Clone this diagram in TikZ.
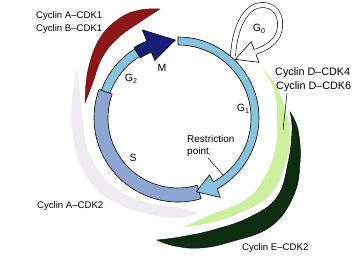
\documentclass[tikz,border=0pt]{standalone}
\usepackage{fontspec}
\setmainfont{Liberation Sans}
\definecolor{Sfill}{RGB}{140,165,210}
\definecolor{Gfill}{RGB}{135,195,222}
\definecolor{Mfill}{RGB}{22,32,120}
\definecolor{redC}{RGB}{140,22,22}
\definecolor{greyC}{RGB}{238,236,240}
\definecolor{lgreenC}{RGB}{205,240,160}
\definecolor{dgreenC}{RGB}{12,45,16}
\newcommand{\gsub}[1]{G\raisebox{-0.4ex}{\fontsize{7}{8}\selectfont #1}}
\begin{document}
\begin{tikzpicture}[x=1pt,y=1pt,
  ring/.style={draw=black, line width=0.6pt, line join=round},
  lab/.style={inner sep=0pt, anchor=west, font=\fontsize{9.6}{11}\selectfont},
  labD/.style={inner sep=0pt, anchor=west, font=\fontsize{10.8}{12}\selectfont},
  phase/.style={inner sep=0pt, font=\fontsize{10.5}{12}\selectfont},
  leader/.style={draw=black, line width=0.5pt}]
\useasboundingbox (0,0) rectangle (358,263);
% crescents (behind)
\filldraw[fill=redC, draw=redC!70!black, line width=0.4pt]
  plot[smooth, tension=0.7] coordinates {(85,160) (88,193) (100,225) (120,245) (140,253) (160,254)}
  -- plot[smooth, tension=0.7] coordinates {(160,254) (140,241) (118,225) (102,205) (92,178) (85,160)} -- cycle;
\fill[greyC]
  plot[smooth, tension=0.7] coordinates {(77,195) (72,163) (72,133) (80,100) (100,70) (133,53) (173,45) (198,50)}
  -- plot[smooth, tension=0.7] coordinates {(198,50) (180,55) (143,62) (112,78) (90,108) (83,140) (80,170) (77,195)} -- cycle;
\fill[lgreenC]
  plot[smooth, tension=0.7] coordinates {(260,198) (278,173) (290,133) (285,98) (270,68) (240,50) (210,40) (183,36)}
  -- plot[smooth, tension=0.7] coordinates {(183,36) (215,50) (245,63) (263,83) (275,113) (277,143) (274,173) (260,198)} -- cycle;
\filldraw[fill=dgreenC, draw=black, line width=0.4pt]
  plot[smooth, tension=0.7] coordinates {(290,151) (298,133) (300,100) (293,66) (270,36) (230,21) (200,15) (175,17) (157,23)}
  -- plot[smooth, tension=0.7] coordinates {(157,23) (180,26) (213,33) (250,46) (277,66) (288,100) (292,133) (290,151)} -- cycle;
% cycle ring
\begin{scope}[shift={(178,145)}]
\filldraw[ring, fill=Sfill] (-74:84) arc[start angle=-74, end angle=-200, radius=84]
  -- (-200:70) arc[start angle=-200, end angle=-74, radius=70] -- cycle;
\filldraw[ring, fill=Gfill] (160:81.5) arc[start angle=160, end angle=122, radius=81.5]
  -- (122:72.5) arc[start angle=122, end angle=160, radius=72.5] -- cycle;
\filldraw[ring, fill=Mfill] (122:83) arc[start angle=122, end angle=112, radius=83]
  -- (112:95) -- (92:78) -- (112:62) -- (112:71) arc[start angle=112, end angle=122, radius=71] -- cycle;
\filldraw[ring, fill=Gfill] (90:81) arc[start angle=90, end angle=-61, radius=81]
  -- (-62:90) -- (-76:76) -- (-61:65) -- (-61:73) arc[start angle=-61, end angle=90, radius=73] -- cycle;
\end{scope}
% G0 loop
\coordinate (g0s) at (233,207);
\coordinate (g0b) at (255,211);
\draw[line width=0.6pt, double=white, double distance=4.5pt]
  (g0s) .. controls (235,240) and (248,258) .. (262,258)
  .. controls (280,258) and (283,240) .. (278,228)
  .. controls (273,218) and (263,214) .. (g0b);
\coordinate (g0t) at (235.3,203.6);
\coordinate (g0b1) at (258.9,200.7);
\coordinate (g0b2) at (251.1,221.3);
\coordinate (g0s1) at (256.0,208.3);
\coordinate (g0s2) at (254.0,213.7);
\fill[white] (g0t) -- (g0b1) -- (g0s1) -- (g0s2) -- (g0b2) -- cycle;
\draw[line width=0.6pt, line join=miter] (g0s1) -- (g0b1) -- (g0t) -- (g0b2) -- (g0s2);
% labels
\node[lab] (cab1) at (36,247) {Cyclin A–CDK1};
\node[lab] (cbb1) at (36,234) {Cyclin B–CDK1};
\node[phase] (m) at (162,195) {M};
\node[phase] (g2) at (131,184) {\gsub{2}};
\node[phase] (g0) at (259,234) {\gsub{0}};
\node[phase] (g1) at (243,154) {\gsub{1}};
\node[phase] (s) at (133,105) {S};
\node[inner sep=0pt, anchor=west, align=left, font=\fontsize{10}{12}\selectfont] (rp) at (187,117) {Restriction\\point};
\node[labD] (cd4) at (275,190) {Cyclin D–CDK4};
\node[labD] (cd6) at (276,176) {Cyclin D–CDK6};
\node[lab] (ca2) at (37,57) {Cyclin A–CDK2};
\node[lab] (ce2) at (242,15) {Cyclin E–CDK2};
% leaders
\coordinate (rpA) at (208,105);
\coordinate (rpB) at (223,88);
\draw[leader] (rpA) -- (rpB);
\coordinate (cdA) at (287,170);
\coordinate (cdB) at (283,133);
\draw[leader] (cdA) -- (cdB);
\end{tikzpicture}
\end{document}
